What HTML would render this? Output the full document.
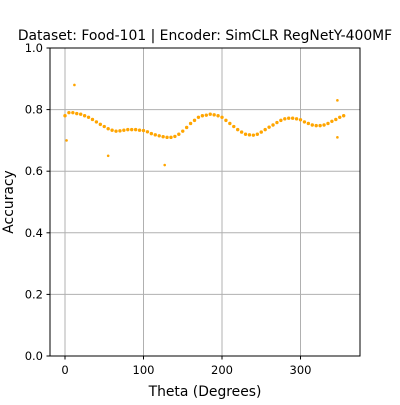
<!DOCTYPE html>
<html><head><meta charset="utf-8"><style>
body{margin:0;background:#fff;}
text{font-family:"DejaVu Sans","Liberation Sans",sans-serif;fill:#000;}
</style></head><body>
<svg id="chart" width="400" height="400" viewBox="0 0 400 400" xmlns="http://www.w3.org/2000/svg">
<rect width="400" height="400" fill="#fff"/>
<text x="205" y="40" font-size="13.9" text-anchor="middle">Dataset: Food-101 | Encoder: SimCLR RegNetY-400MF</text>
<g id="grid"></g>
<g id="points"></g>
<rect x="50" y="48" width="310" height="308" fill="none" stroke="#000" stroke-width="1"/>
<g id="ticks"></g>
<text x="205" y="396" font-size="13.9" text-anchor="middle">Theta (Degrees)</text>
<text x="9" y="202" font-size="13.9" text-anchor="middle" transform="rotate(-90 9 202)" dy="4">Accuracy</text>
</svg>
<script>
const thetas=[0,5,10,15,20,25,30,35,40,45,50,55,60,65,70,75,80,85,90,95,100,105,110,115,120,125,130,135,140,145,150,155,160,165,170,175,180,185,190,195,200,205,210,215,220,225,230,235,240,245,250,255,260,265,270,275,280,285,290,295,300,305,310,315,320,325,330,335,340,345,350,355];
const accuracy=[0.78,0.79,0.79,0.787,0.785,0.78,0.775,0.768,0.76,0.752,0.745,0.738,0.733,0.73,0.731,0.733,0.735,0.735,0.735,0.733,0.732,0.728,0.722,0.718,0.715,0.712,0.71,0.71,0.713,0.72,0.73,0.742,0.755,0.765,0.775,0.78,0.782,0.785,0.783,0.78,0.775,0.765,0.755,0.745,0.735,0.727,0.72,0.718,0.717,0.72,0.727,0.735,0.743,0.75,0.758,0.765,0.77,0.772,0.772,0.77,0.767,0.76,0.755,0.75,0.748,0.748,0.75,0.755,0.762,0.768,0.775,0.78];
const outlierThetas=[2,12,55,127,347,347];
const outlierAcc=[0.70,0.88,0.65,0.62,0.83,0.71];
const xTicks=[0,100,200,300];
const yTicks=[0.0,0.2,0.4,0.6,0.8,1.0];
const NS="http://www.w3.org/2000/svg";
const xs=t=>65+t*0.785;
const ys=a=>356-a*308;
const grid=document.getElementById('grid'),ticks=document.getElementById('ticks'),pts=document.getElementById('points');
function mk(tag,attrs,parent){const e=document.createElementNS(NS,tag);for(const k in attrs)e.setAttribute(k,attrs[k]);parent.appendChild(e);return e;}
xTicks.forEach(t=>{const x=xs(t);
 const g=mk('line',{x1:x,x2:x,y1:48,y2:356,stroke:'#b0b0b0','stroke-width':1},grid);
 
 
 mk('line',{x1:x,x2:x,y1:356,y2:359.5,stroke:'#000'},ticks);
 const l=mk('text',{x:x,y:374,'font-size':11.5,'text-anchor':'middle'},ticks);l.textContent=t;
 
 });
yTicks.forEach(v=>{const y=ys(v);
 const g=mk('line',{x1:50,x2:360,y1:y,y2:y,stroke:'#b0b0b0','stroke-width':1},grid);
 
 
 mk('line',{x1:46.5,x2:50,y1:y,y2:y,stroke:'#000'},ticks);
 const l=mk('text',{x:43,y:y+4,'font-size':11.5,'text-anchor':'end'},ticks);l.textContent=v.toFixed(1);
 
 });
thetas.forEach((t,i)=>{const c=mk('circle',{cx:xs(t),cy:ys(accuracy[i]),r:1.7,fill:'orange'},pts);
 
 });
outlierThetas.forEach((t,i)=>{const c=mk('circle',{cx:xs(t),cy:ys(outlierAcc[i]),r:1.3,fill:'orange'},pts);
 
 });
</script>
</body></html>
